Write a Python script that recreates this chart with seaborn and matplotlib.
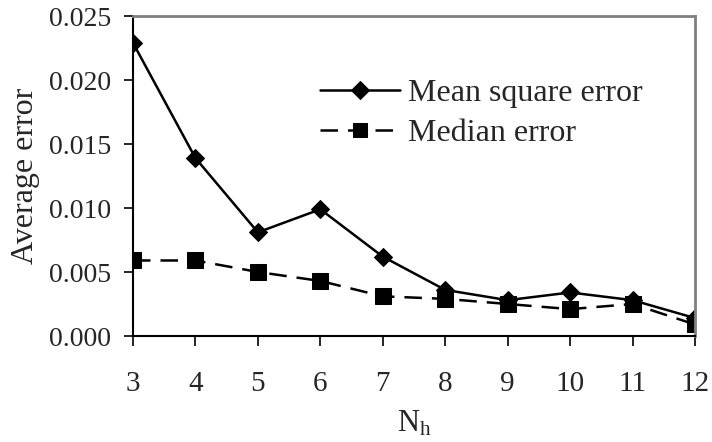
import matplotlib
matplotlib.use("Agg")
import matplotlib.pyplot as plt
import seaborn as sns
import pandas as pd

# Data
nh = [3, 4, 5, 6, 7, 8, 9, 10, 11, 12]
mean_square_error = [0.0229, 0.0139, 0.0081, 0.0099, 0.0062, 0.0036, 0.0028, 0.0034, 0.0028, 0.0014]
median_error = [0.0059, 0.0059, 0.0050, 0.0043, 0.0031, 0.0029, 0.0025, 0.0021, 0.0025, 0.0009]
series_names = ["Mean square error", "Median error"]
y_ticks = [0.000, 0.005, 0.010, 0.015, 0.020, 0.025]

df = pd.DataFrame({
    "Nh": nh * 2,
    "value": mean_square_error + median_error,
    "series": [series_names[0]] * len(nh) + [series_names[1]] * len(nh),
})

sns.set_theme(style="white")
plt.rcParams["font.family"] = ["Liberation Serif", "DejaVu Serif"]
plt.rcParams["mathtext.fontset"] = "custom"
plt.rcParams["mathtext.rm"] = "Liberation Serif"
plt.rcParams["mathtext.it"] = "Liberation Serif"

fig = plt.figure(figsize=(7.12, 4.42), dpi=100)
ax = fig.add_axes([133 / 712, 1 - 336 / 442, 562 / 712, 320 / 442])

sns.lineplot(
    data=df, x="Nh", y="value", hue="series", style="series",
    palette={series_names[0]: "black", series_names[1]: "black"},
    markers={series_names[0]: "D", series_names[1]: "s"},
    dashes={series_names[0]: "", series_names[1]: (7, 4)},
    linewidth=1.8, markeredgecolor="black",
    ax=ax, legend=True,
)
for line in ax.lines:
    if line.get_marker() == "D":
        line.set_markersize(8.7)
    elif line.get_marker() == "s":
        line.set_markersize(11)

ax.set_xlim(3, 12)
ax.set_ylim(0, 0.025)
ax.set_xticks(nh)
ax.set_yticks(y_ticks)
ax.set_yticklabels([f"{v:.3f}" for v in y_ticks])
ax.tick_params(axis="both", direction="out", width=1.2, color="black",
               bottom=True, left=True)
ax.tick_params(axis="x", labelsize=21, length=7, pad=18)
ax.tick_params(axis="y", labelsize=20, length=6.5, pad=9)

for s in ["left", "bottom"]:
    ax.spines[s].set_color("black")
    ax.spines[s].set_linewidth(1.5)
for s in ["top", "right"]:
    ax.spines[s].set_color("#808080")
    ax.spines[s].set_linewidth(2)

ax.set_xlabel(r"N$_{\mathregular{h}}$", fontsize=22, labelpad=9)
ax.set_ylabel("Average error", fontsize=23)
ax.yaxis.set_label_coords(-0.1655, 0.5)

leg = ax.legend(loc="center left", bbox_to_anchor=(0.333, 0.695), frameon=False,
                fontsize=23, handlelength=2.5, handletextpad=0.25, labelspacing=0.33,
                borderpad=0, borderaxespad=0)
for h in leg.legend_handles:
    if h.get_marker() == "D":
        h.set_markersize(9)
    else:
        h.set_markersize(10.5)

fig.savefig("out.png", dpi=100)
